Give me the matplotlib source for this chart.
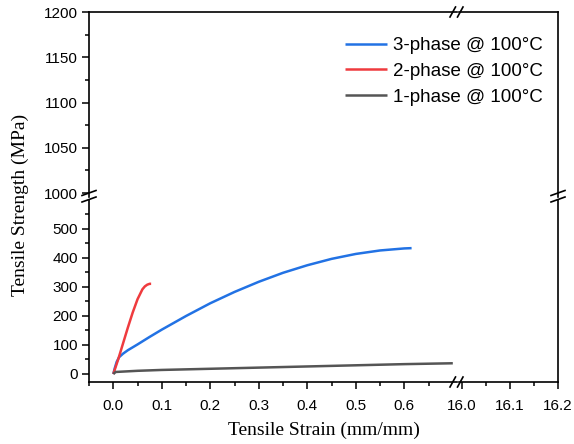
import matplotlib
matplotlib.use("Agg")
import matplotlib.pyplot as plt
from matplotlib.lines import Line2D
from matplotlib.ticker import MultipleLocator, FixedLocator

# ---- data ----
strain_3 = [0, 0.003, 0.007, 0.012, 0.02, 0.03, 0.05, 0.075, 0.1, 0.15, 0.2,
            0.25, 0.3, 0.35, 0.4, 0.45, 0.5, 0.55, 0.6, 0.615]
stress_3 = [0, 20, 42, 58, 70, 82, 102, 128, 153, 200, 244,
            283, 318, 349, 375, 397, 414, 426, 433, 434]

strain_2 = [0, 0.005, 0.01, 0.02, 0.03, 0.04, 0.05, 0.06, 0.065, 0.07, 0.075, 0.078]
stress_2 = [0, 25, 50, 105, 160, 212, 258, 292, 302, 308, 311, 311]

strain_1 = [0, 0.005, 0.05, 0.1, 0.2, 0.3, 0.4, 0.5, 0.6, 0.7]
stress_1 = [0, 7, 11, 14, 18, 22, 26, 30, 34, 37]

labels = ["3-phase @ 100°C", "2-phase @ 100°C", "1-phase @ 100°C"]
colors = ["#2272e4", "#ef3b3e", "#555555"]

x_ticks_left = [0.0, 0.1, 0.2, 0.3, 0.4, 0.5, 0.6]
x_ticks_right = [16.0, 16.1, 16.2]
y_ticks_low = [0, 100, 200, 300, 400, 500]
y_ticks_high = [1000, 1050, 1100, 1150, 1200]

# ---- layout (pixel based) ----
W, H = 574, 444
fig = plt.figure(figsize=(W / 100, H / 100), dpi=100)


def rect(x0, x1, ytop, ybot):
    return [x0 / W, 1 - ybot / H, (x1 - x0) / W, (ybot - ytop) / H]


xl0, xl1 = 89, 456.5
xr0, xr1 = 459, 558
yt0, yt1 = 12, 197
yb0, yb1 = 200, 382

ax_tl = fig.add_axes(rect(xl0, xl1, yt0, yt1))
ax_tr = fig.add_axes(rect(xr0, xr1, yt0, yt1))
ax_bl = fig.add_axes(rect(xl0, xl1, yb0, yb1))
ax_br = fig.add_axes(rect(xr0, xr1, yb0, yb1))

xlim_left = (-0.0501, 0.7076)
xlim_right = (15.9944, 16.2)
ylim_high = (995.6, 1200)
ylim_low = (-27.6, 600)

for ax in (ax_tl, ax_bl):
    ax.set_xlim(*xlim_left)
for ax in (ax_tr, ax_br):
    ax.set_xlim(*xlim_right)
for ax in (ax_tl, ax_tr):
    ax.set_ylim(*ylim_high)
for ax in (ax_bl, ax_br):
    ax.set_ylim(*ylim_low)

# plot curves
lines = []
for sx, sy, lab, c in [(strain_3, stress_3, labels[0], colors[0]),
                       (strain_2, stress_2, labels[1], colors[1]),
                       (strain_1, stress_1, labels[2], colors[2])]:
    ln, = ax_bl.plot(sx, sy, color=c, lw=1.8, label=lab, solid_capstyle="butt")
    lines.append(ln)

spine_w = 1.2

for ax in (ax_tl, ax_tr, ax_bl, ax_br):
    for s in ax.spines.values():
        s.set_linewidth(spine_w)
        s.set_visible(False)
    ax.tick_params(which="both", direction="out", width=1.1, labelsize=11)
    ax.tick_params(which="major", length=5)
    ax.tick_params(which="minor", length=3)
    ax.set_facecolor("none")

# top-left: left + top spines, y ticks only
ax_tl.spines["left"].set_visible(True)
ax_tl.spines["top"].set_visible(True)
ax_tl.xaxis.set_visible(False)
ax_tl.yaxis.set_major_locator(FixedLocator(y_ticks_high))
ax_tl.yaxis.set_minor_locator(MultipleLocator(25))

# top-right: top + right spines, no ticks
ax_tr.spines["top"].set_visible(True)
ax_tr.spines["right"].set_visible(True)
ax_tr.xaxis.set_visible(False)
ax_tr.yaxis.set_visible(False)

# bottom-left: left + bottom
ax_bl.spines["left"].set_visible(True)
ax_bl.spines["bottom"].set_visible(True)
ax_bl.xaxis.set_major_locator(FixedLocator(x_ticks_left))
ax_bl.xaxis.set_minor_locator(FixedLocator([-0.05, 0.05, 0.15, 0.25, 0.35, 0.45, 0.55, 0.65]))
ax_bl.yaxis.set_major_locator(FixedLocator(y_ticks_low))
ax_bl.yaxis.set_minor_locator(FixedLocator([50, 150, 250, 350, 450, 550]))
ax_bl.set_xticklabels([f"{v:.1f}" for v in x_ticks_left])
ax_bl.set_yticklabels([str(v) for v in y_ticks_low])

# bottom-right: bottom + right
ax_br.spines["bottom"].set_visible(True)
ax_br.spines["right"].set_visible(True)
ax_br.yaxis.set_visible(False)
ax_br.xaxis.set_major_locator(FixedLocator(x_ticks_right))
ax_br.xaxis.set_minor_locator(FixedLocator([16.05, 16.15]))
ax_br.set_xticklabels([f"{v:.1f}" for v in x_ticks_right])

for ax in (ax_tl, ax_bl, ax_br):
    for lab in ax.get_xticklabels() + ax.get_yticklabels():
        lab.set_fontfamily("Liberation Sans")
        lab.set_fontsize(11)
    ax.tick_params(axis="x", pad=7)
    ax.tick_params(axis="y", pad=3)

# break marks (figure pixel coords)
def seg(x0, y0, x1, y1):
    fig.add_artist(Line2D([x0 / W, x1 / W], [1 - y0 / H, 1 - y1 / H],
                          transform=fig.transFigure, color="black", lw=1.2))

for xs in (xl0, xr1):
    seg(xs - 7, 195.5, xs + 7, 190.5)
    seg(xs - 7, 202, xs + 7, 197)
# x break: bottom and top spines
for yb in (yb1, yt0):
    seg(450, yb + 5, 455.5, yb - 5)
    seg(457.5, yb + 5, 463, yb - 5)

# legend
fig.legend(handles=lines, labels=labels, loc="upper left",
           bbox_to_anchor=(345 / W, 1 - 37 / H), frameon=False,
           prop=dict(family="Liberation Sans", size=13.5),
           handlelength=2.24, handletextpad=0.32, labelspacing=0.46,
           borderaxespad=0, borderpad=0)

# axis labels
fig.text(324 / W, 1 - 430 / H, "Tensile Strain (mm/mm)", ha="center", va="center",
         family="Liberation Serif", size=14)
fig.text(20 / W, 1 - 205 / H, "Tensile Strength (MPa)", ha="center", va="center",
         rotation=90, family="Liberation Serif", size=14)

fig.savefig("out.png", dpi=100)
